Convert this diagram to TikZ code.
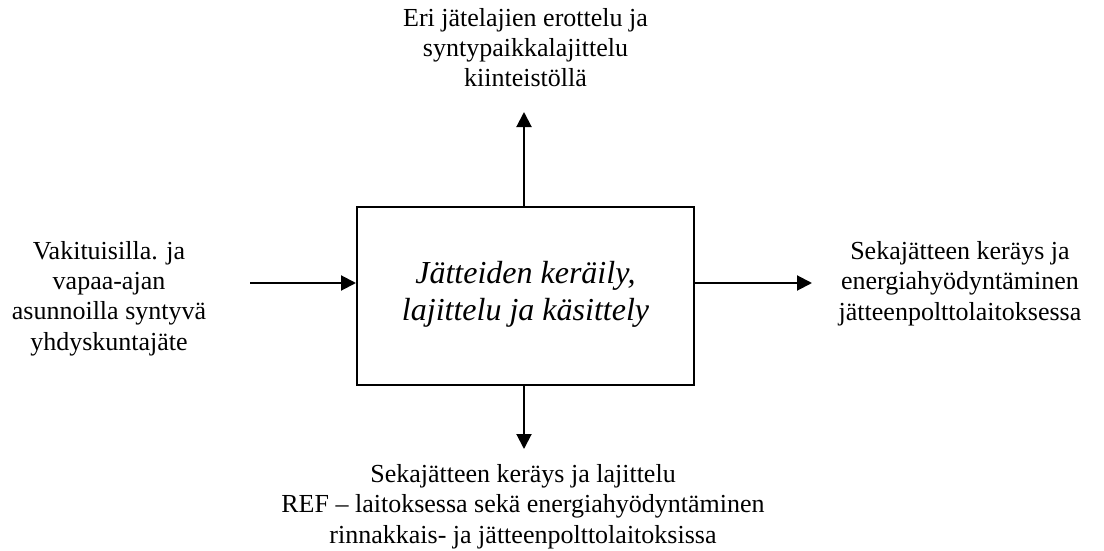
\documentclass[tikz,border=0pt]{standalone}
\usepackage{fontspec}
\setmainfont{Liberation Serif}
\usetikzlibrary{arrows.meta}
\begin{document}
\begin{tikzpicture}[x=1pt,y=-1pt,
  label text/.style={align=center,font=\fontsize{26}{30.3}\selectfont,inner sep=0pt,anchor=base},
  flow/.style={line width=2pt,-{Triangle[length=15pt,width=15pt]}},
  process/.style={draw,line width=2pt,minimum width=337pt,minimum height=178pt,inner sep=0pt}]
\useasboundingbox (0,0) rectangle (1104,551);
% central process box and its two-line italic title
\node[process] (box) at (525.5,296) {};
\node[align=center,font=\fontsize{32}{37}\selectfont\itshape,inner sep=0pt,anchor=base]
  (title) at (525.5,320) {Jätteiden keräily,\\lajittelu ja käsittely};
% surrounding labels (positioned by the baseline of their last line)
\node[label text] (top) at (525.5,87) {Eri jätelajien erottelu ja\\syntypaikkalajittelu\\kiinteistöllä};
\node[label text] (left) at (109,350) {Vakituisilla. ja\\vapaa-ajan\\asunnoilla syntyvä\\yhdyskuntajäte};
\node[label text] (right) at (960,320) {Sekajätteen keräys ja\\energiahyödyntäminen\\jätteenpolttolaitoksessa};
\node[label text] (bottom) at (523,543) {Sekajätteen keräys ja lajittelu\\REF – laitoksessa sekä energiahyödyntäminen\\rinnakkais- ja jätteenpolttolaitoksissa};
% free ends of the four arrows
\coordinate (inL) at (250,283);
\coordinate (outR) at (812,283);
\coordinate (outT) at (524,112);
\coordinate (outB) at (524,449);
\draw[flow] (inL) -- (box.west |- inL);
\draw[flow] (box.east |- outR) -- (outR);
\draw[flow] (box.north -| outT) -- (outT);
\draw[flow] (box.south -| outB) -- (outB);
\end{tikzpicture}
\end{document}
